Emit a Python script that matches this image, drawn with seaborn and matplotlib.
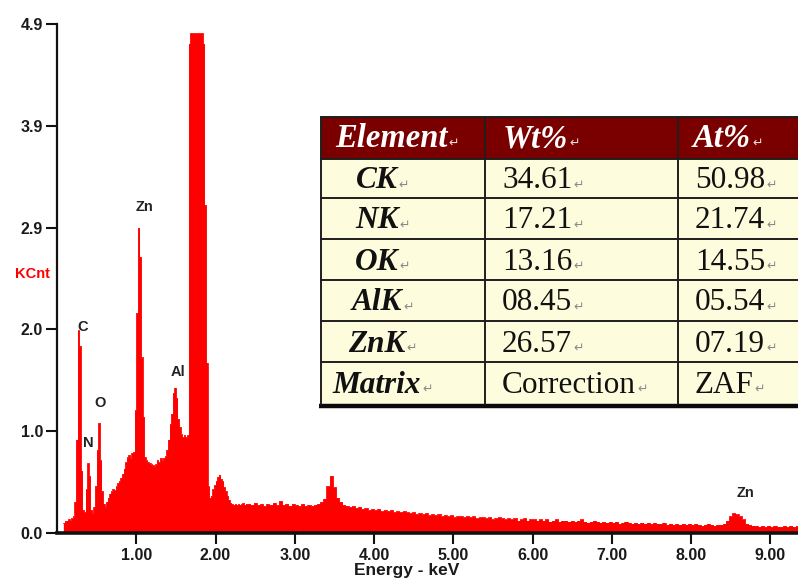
import numpy as np
import pandas as pd
import matplotlib
matplotlib.use("Agg")
import matplotlib.pyplot as plt
import seaborn as sns
from matplotlib.patches import Rectangle

# ---------------- data ----------------
low_start = 0.08     # keV, first channel edge
low_width = 0.02     # keV per channel (low-energy part)
counts_low = [
    0.10, 0.12, 0.12, 0.13, 0.12, 0.14, 0.16, 0.30, 0.90, 1.95,
    1.80, 0.60, 0.22, 0.20, 0.42, 0.67, 0.55, 0.22, 0.19, 0.25,
    0.45, 0.80, 1.06, 0.70, 0.40, 0.28, 0.25, 0.30, 0.34, 0.38,
    0.40, 0.42, 0.41, 0.45, 0.48, 0.50, 0.53, 0.57, 0.62, 0.68,
    0.73, 0.75, 0.72, 0.77, 0.78, 1.18, 2.12, 2.94, 2.66, 1.69,
    1.12, 0.73, 0.70, 0.68, 0.67, 0.66, 0.65, 0.64, 0.66, 0.70,
    0.68, 0.72, 0.70, 0.72, 0.74, 0.80, 0.90, 1.05, 1.15, 1.35,
    1.40, 1.30, 1.10, 1.02, 0.95, 0.92, 0.94, 0.92, 0.94, 4.71,
    4.81, 4.81, 4.81, 4.81, 4.81, 4.81, 4.81, 4.81, 4.71, 3.16,
    1.64, 0.45, 0.34, 0.36, 0.42, 0.46, 0.50, 0.54, 0.56, 0.52,
    0.50, 0.44, 0.40, 0.36, 0.32, 0.29, 0.28, 0.27, 0.28, 0.27,
    0.28, 0.27, 0.28, 0.29, 0.27, 0.28,
]
high_width = 0.04    # keV per channel (high-energy part)
counts_high = [
    0.28, 0.27, 0.29, 0.27, 0.28, 0.26, 0.28, 0.27, 0.29, 0.27,
    0.31, 0.27, 0.28, 0.26, 0.28, 0.27, 0.26, 0.28, 0.26, 0.27,
    0.26, 0.27, 0.28, 0.30, 0.33, 0.45, 0.55, 0.44, 0.34, 0.30,
    0.27, 0.26, 0.25, 0.26, 0.24, 0.25, 0.23, 0.24, 0.22, 0.23,
    0.22, 0.23, 0.21, 0.22, 0.21, 0.22, 0.20, 0.21, 0.20, 0.21,
    0.20, 0.19, 0.20, 0.18, 0.19, 0.18, 0.19, 0.17, 0.18, 0.17,
    0.18, 0.16, 0.17, 0.16, 0.17, 0.15, 0.16, 0.16, 0.15, 0.16,
    0.15, 0.16, 0.14, 0.15, 0.15, 0.14, 0.15, 0.13, 0.14, 0.15,
    0.14, 0.13, 0.14, 0.13, 0.14, 0.12, 0.13, 0.14, 0.12, 0.13,
    0.13, 0.12, 0.13, 0.12, 0.13, 0.11, 0.12, 0.13, 0.11, 0.12,
    0.12, 0.11, 0.12, 0.11, 0.12, 0.13, 0.11, 0.10, 0.11, 0.12,
    0.11, 0.10, 0.11, 0.10, 0.11, 0.10, 0.11, 0.09, 0.10, 0.11,
    0.10, 0.09, 0.10, 0.09, 0.10, 0.09, 0.10, 0.09, 0.10, 0.09,
    0.09, 0.10, 0.08, 0.09, 0.08, 0.09, 0.08, 0.09, 0.08, 0.09,
    0.08, 0.09, 0.08, 0.07, 0.08, 0.09, 0.08, 0.07, 0.08, 0.08,
    0.09, 0.12, 0.16, 0.19, 0.18, 0.16, 0.13, 0.09, 0.08, 0.07,
    0.07, 0.06, 0.07, 0.06, 0.07, 0.06, 0.07, 0.06, 0.06, 0.07,
    0.06, 0.07, 0.06, 0.07,
]

y_ticks = [0.0, 0.98, 1.96, 2.94, 3.92, 4.9]
y_tick_labels = ["0.0", "1.0", "2.0", "2.9", "3.9", "4.9"]
x_ticks = [1, 2, 3, 4, 5, 6, 7, 8, 9]
x_tick_labels = ["1.00", "2.00", "3.00", "4.00", "5.00", "6.00", "7.00", "8.00", "9.00"]

peak_labels = ["C", "N", "O", "Zn", "Al", "Zn"]
peak_label_x = [0.32, 0.395, 0.546, 1.10, 1.53, 8.69]
peak_label_y = [1.98, 0.87, 1.25, 3.14, 1.55, 0.385]

table_header = ["Element", "Wt%", "At%"]
table_elements = ["CK", "NK", "OK", "AlK", "ZnK", "Matrix"]
table_wt = ["34.61", "17.21", "13.16", "08.45", "26.57", "Correction"]
table_at = ["50.98", "21.74", "14.55", "05.54", "07.19", "ZAF"]

# ---------------- figure ----------------
sns.set_style("ticks")
plt.rcParams["font.family"] = ["Liberation Sans", "DejaVu Sans"]

W, H = 798, 583
fig = plt.figure(figsize=(W / 100, H / 100), dpi=100)
ax = fig.add_axes([57 / W, 50 / H, (W - 57) / W, 509 / H])

edges_low = low_start + low_width * np.arange(len(counts_low) + 1)
edges_high = edges_low[-1] + high_width * np.arange(1, len(counts_high) + 1)
edges = np.concatenate([edges_low, edges_high])
counts = np.array(counts_low + counts_high)
step_y = np.append(counts, counts[-1])
df = pd.DataFrame({"energy": edges, "kcnt": step_y})

sns.lineplot(data=df, x="energy", y="kcnt", drawstyle="steps-post",
             color="#FF0000", linewidth=0.6, ax=ax, zorder=2)
ax.fill_between(df["energy"], 0, df["kcnt"], step="post", color="#FF0000",
                linewidth=0, zorder=2)

ax.set_xlim(0, 9.35)
ax.set_ylim(0, 4.9)
ax.set_xlabel("")
ax.set_ylabel("")
ax.set_yticks(y_ticks)
ax.set_yticklabels(y_tick_labels)
ax.set_xticks(x_ticks)
ax.set_xticklabels(x_tick_labels)
for lab in ax.get_xticklabels() + ax.get_yticklabels():
    lab.set_fontweight("bold")
    lab.set_color("#1a1a1a")
ax.tick_params(axis="both", direction="out", length=8, width=1.5, colors="#111111",
               labelsize=11.5, labelcolor="#1a1a1a")
ax.tick_params(axis="y", pad=2)
ax.tick_params(axis="x", pad=3)
sns.despine(ax=ax)
ax.spines["left"].set_linewidth(1.6)
ax.spines["bottom"].set_linewidth(2.6)
ax.spines["left"].set_color("#111111")
ax.spines["bottom"].set_color("#111111")
ax.spines["bottom"].set_zorder(3)
ax.patch.set_alpha(0)

for lab, px, py in zip(peak_labels, peak_label_x, peak_label_y):
    ax.text(px, py, lab, ha="center", va="center", fontsize=10.5,
            fontweight="bold", color="#222222")

fig.text(15 / W, 1 - 274 / H, "KCnt", color="#FF0000", fontsize=10.5,
         fontweight="bold", ha="left", va="center")
fig.text(407 / W, 1 - 571 / H, "Energy - keV", color="#1a1a1a", fontsize=12.5,
         fontweight="bold", ha="center", va="center")

# ---------------- table overlay (pixel coordinates) ----------------
tx = fig.add_axes([0, 0, 1, 1])
tx.set_xlim(0, W)
tx.set_ylim(H, 0)
tx.axis("off")
tx.patch.set_alpha(0)

col_edges = [321, 485, 678, 840]
row_edges = [117, 159, 198, 239, 280, 321, 362, 404]
header_fill = "#7A0000"
body_fill = "#FDFCDC"
line_col = "#1e1e1e"

tx.add_patch(Rectangle((col_edges[0], row_edges[0]), col_edges[-1] - col_edges[0],
                       row_edges[1] - row_edges[0], facecolor=header_fill,
                       edgecolor="none", zorder=1))
tx.add_patch(Rectangle((col_edges[0], row_edges[1]), col_edges[-1] - col_edges[0],
                       row_edges[-1] - row_edges[1], facecolor=body_fill,
                       edgecolor="none", zorder=1))
for yv in row_edges[:-1]:
    tx.plot([col_edges[0], col_edges[-1]], [yv, yv], color=line_col, lw=1.4, zorder=3)
tx.plot([col_edges[0] - 2, col_edges[-1]], [row_edges[-1] + 1.5, row_edges[-1] + 1.5],
        color="#0a0a0a", lw=3.2, zorder=3, solid_capstyle="butt")
for xv in col_edges[:-1]:
    tx.plot([xv, xv], [row_edges[0], row_edges[-1]], color=line_col, lw=1.4, zorder=3)

serif = ["Liberation Serif", "DejaVu Serif"]
texts = []  # (text artist, mark color)

def baseline(i):
    return (row_edges[i] + row_edges[i + 1]) / 2 + 10

header_x = [335, 503, 693]
for j, h in enumerate(table_header):
    t = tx.text(header_x[j], row_edges[1] - 12, h, ha="left", va="baseline",
                fontsize=23.5, fontweight="bold", fontstyle="italic",
                family=serif, color="white", zorder=4)
    texts.append((t, "#f0dede"))

for i in range(len(table_elements)):
    b = baseline(i + 1)
    t = tx.text(377, b, table_elements[i], ha="center", va="baseline", fontsize=22.5,
                fontweight="bold", fontstyle="italic", family=serif,
                color="#111111", zorder=4)
    texts.append((t, "#8a8a8a"))
    t = tx.text(502, b, table_wt[i], ha="left", va="baseline", fontsize=22.5,
                family=serif, color="#111111", zorder=4)
    texts.append((t, "#8a8a8a"))
    t = tx.text(695, b, table_at[i], ha="left", va="baseline", fontsize=22.5,
                family=serif, color="#111111", zorder=4)
    texts.append((t, "#8a8a8a"))

# paragraph marks after each cell text
fig.canvas.draw()
renderer = fig.canvas.get_renderer()
inv = tx.transData.inverted()
for t, mc in texts:
    bb = t.get_window_extent(renderer=renderer)
    x1, _ = inv.transform((bb.x1, bb.y0))
    tx.text(x1 + 1, t.get_position()[1], "\u21b5", ha="left", va="baseline",
            fontsize=9, family=["DejaVu Sans"], color=mc, zorder=4)

fig.savefig("out.png", dpi=100)
